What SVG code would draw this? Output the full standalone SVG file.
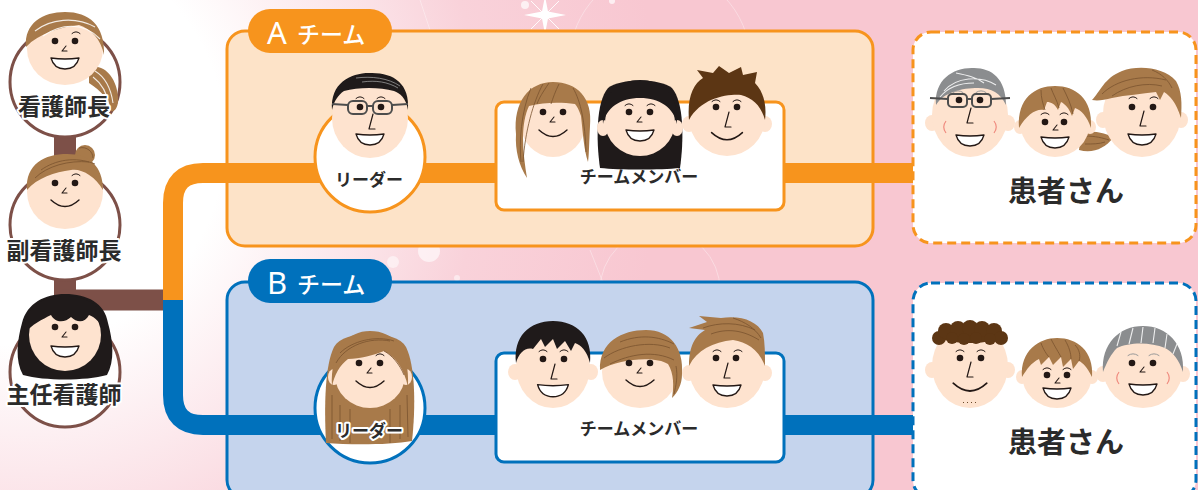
<svg xmlns="http://www.w3.org/2000/svg" width="1198" height="490" viewBox="0 0 1198 490">
<defs>
  <radialGradient id="bg" gradientUnits="userSpaceOnUse" cx="20" cy="140" r="640">
    <stop offset="0" stop-color="#ffffff"/>
    <stop offset="0.32" stop-color="#ffffff"/>
    <stop offset="0.72" stop-color="#f9d2da"/>
    <stop offset="1" stop-color="#f8c7d1"/>
  </radialGradient>
  <!-- shared facial features -->
  <path id="mo" d="M-14,-4 Q0,-2 14,-4 Q11,7 0,7 Q-11,7 -14,-4Z" fill="#ffffff" stroke="#231815" stroke-width="1.3" stroke-linejoin="round"/>
  <path id="sm" d="M-14,-4 Q0,9 14,-4" fill="none" stroke="#231815" stroke-width="1.4" stroke-linecap="round"/>
  <path id="nl" d="M2,-8 L-2,7 L4,7" fill="none" stroke="#231815" stroke-width="1.2" stroke-linecap="round" stroke-linejoin="round"/>
  <path id="ns" d="M2,-3 L-2,2 L3,2" fill="none" stroke="#231815" stroke-width="1.1" stroke-linecap="round" stroke-linejoin="round"/>
  <path id="br" d="M-4,1.5 Q0,-2 4,1.5" fill="none" stroke="#231815" stroke-width="1" stroke-linecap="round"/>
  <path id="brg" d="M-5,1.5 Q0,-2 5,1.5" fill="none" stroke="#9a9a9a" stroke-width="1" stroke-linecap="round"/>
  <circle id="ey" r="3.3" fill="#231815"/>
  <path id="ck" d="M-24,6 C-27,10 -27,14 -24,18 M24,6 C27,10 27,14 24,18" fill="none" stroke="#f08a7e" stroke-width="1.2"/>
</defs>
<style>
  .sk { fill: #fee3cf; }
  .hb { fill: #a87a4a; }
  .hd { fill: #5c3614; }
  .hk { fill: #1f1a1a; }
  .hg { fill: #8b8d8f; }
  .hl { fill: none; stroke: #7a532e; stroke-width: 0.8; }
  .hw { fill: none; stroke: #ffffff; stroke-width: 1.1; opacity: 0.85; }
  .gl { fill: none; stroke: #4d4d4d; stroke-width: 2; }
  .boss { fill: #ffffff; stroke: #7d5048; stroke-width: 3; }
  .lbl { font-family: 'Noto Sans CJK JP', 'Noto Sans', sans-serif; font-weight: 700; fill: #2b2b2b; text-anchor: middle; }
  .halo { stroke: #ffffff; stroke-width: 4; stroke-linejoin: round; paint-order: stroke; }
  .tab { font-family: 'Noto Sans', 'Noto Sans CJK JP', sans-serif; fill: #ffffff; }
  .tabj { font-family: 'Noto Sans CJK JP', sans-serif; font-weight: 500; fill: #ffffff; }
</style>

<!-- backdrop -->
<rect x="0" y="0" width="1198" height="490" fill="url(#bg)"/>
<g fill="#ffffff">
  <path d="M545,-4 L548,11.5 L566,15 L548,18.5 L545,34 L542,18.5 L524,15 L542,11.5Z"/>
  <path d="M531,1 L559,29 M559,1 L531,29" stroke="#ffffff" stroke-width="0.9"/>
  <circle cx="525" cy="5" r="4" opacity="0.7"/>
  <circle cx="612" cy="1" r="3" opacity="0.7"/>
  <circle cx="429" cy="251" r="11" opacity="0.6"/>
  <circle cx="393" cy="262" r="6" opacity="0.5"/>
  <circle cx="457" cy="278" r="3" opacity="0.5"/>
</g>
<g fill="none" stroke="#ffffff" stroke-width="0.8" opacity="0.45">
  <circle cx="660" cy="60" r="90"/>
  <circle cx="660" cy="290" r="60"/>
  <path d="M420,0 L440,60 M590,250 L610,300"/>
</g>

<!-- team panels -->
<g id="teamA">
  <rect x="227" y="31" width="646" height="215" rx="18" fill="#fde3c8" stroke="#f7941d" stroke-width="3"/>
  <rect x="248" y="9" width="144" height="44" rx="22" fill="#f7941d"/>
  <text class="tab" x="267" y="44" font-size="31">A</text>
  <text class="tabj" x="297" y="43" font-size="23">チーム</text>
</g>
<g id="teamB">
  <rect x="227" y="282" width="646" height="216" rx="18" fill="#c5d4ed" stroke="#0071bc" stroke-width="3"/>
  <rect x="248" y="259" width="144" height="44" rx="22" fill="#0071bc"/>
  <text class="tab" x="267" y="294" font-size="31">B</text>
  <text class="tabj" x="297" y="293" font-size="23">チーム</text>
</g>

<!-- connectors -->
<g id="connectors" fill="none">
  <path d="M65,130 L65,320" stroke="#7d5048" stroke-width="22"/>
  <path d="M62,300 L166,300" stroke="#7d5048" stroke-width="21"/>
  <path d="M173,300 L173,203 Q173,173 203,173 L916,173" stroke="#f7941d" stroke-width="20"/>
  <path d="M173,300 L173,395 Q173,425 203,425 L916,425" stroke="#0071bc" stroke-width="20"/>
</g>

<!-- head nurse -->
<g id="headNurse">
  <circle class="boss" cx="65" cy="82" r="55"/>
  <g transform="translate(65,49)">
    <path class="hb" d="M24,18 C40,14 52,30 53,48 C54,58 49,64 46,62 C44,50 36,42 24,34Z"/>
    <path class="hw" d="M30,22 C40,28 46,40 48,54 M28,28 C36,34 42,44 44,56" opacity="0.5"/>
    <ellipse class="sk" cx="0" cy="0" rx="38" ry="36"/>
    <path class="hb" d="M-39,-2 C-41,-26 -22,-37 0,-37 C24,-37 40,-24 39,6 C36,-10 26,-20 14,-24 C-4,-22 -26,-16 -39,-2Z"/>
    <path class="hw" d="M-30,-18 C-15,-30 10,-33 30,-22 M-22,-13 C-5,-25 18,-28 35,-10" opacity="0.5"/>
    <use href="#br" x="11" y="-17"/>
    <use href="#ey" x="-10" y="-8"/><use href="#ey" x="10" y="-8"/>
    <use href="#ns" x="-1" y="0"/>
    <use href="#mo" x="0" y="13"/>
  </g>
  <text class="lbl halo" x="64" y="115" font-size="23">看護師長</text>
</g>

<!-- deputy head nurse -->
<g id="deputyHeadNurse">
  <circle class="boss" cx="65" cy="225" r="55"/>
  <g transform="translate(65,192)">
    <circle class="hb" cx="20" cy="-37" r="10"/>
    <ellipse class="sk" cx="0" cy="0" rx="38" ry="37"/>
    <path class="hb" d="M-38,-2 C-40,-28 -20,-38 2,-38 C24,-38 38,-26 38,-2 C30,-16 16,-24 6,-22 C-10,-20 -28,-14 -38,-2Z"/>
    <path class="hl" d="M-30,-14 C-18,-26 4,-32 24,-30 M-24,-22 C-10,-32 10,-36 30,-28 M14,-44 C22,-46 28,-40 28,-34"/>
    <use href="#br" x="11" y="-18"/>
    <use href="#ey" x="-10" y="-9"/><use href="#ey" x="10" y="-9"/>
    <use href="#ns" x="-1" y="-1"/>
    <use href="#sm" x="0" y="12"/>
  </g>
  <text class="lbl halo" x="64" y="259" font-size="23">副看護師長</text>
</g>

<!-- chief nurse -->
<g id="chiefNurse">
  <circle class="boss" cx="65" cy="372" r="55"/>
  <g transform="translate(65,335)">
    <path class="hk" d="M-42,40 C-50,26 -48,6 -43,-12 C-38,-32 -20,-41 0,-41 C22,-41 40,-32 43,-12 C48,6 50,26 42,40 C20,46 -20,46 -42,40Z"/>
    <ellipse class="sk" cx="0" cy="0" rx="36" ry="36"/>
    <path class="hk" d="M-40,-2 C-42,-30 -20,-39 0,-39 C20,-39 42,-30 40,-2 C36,-12 30,-18 24,-20 C20,-12 12,-12 6,-18 C0,-12 -10,-12 -14,-20 C-22,-16 -34,-10 -40,-2Z"/>
    <use href="#ey" x="-10" y="-8"/><use href="#ey" x="10" y="-8"/>
    <use href="#ns" x="-1" y="0"/>
    <use href="#mo" x="0" y="15"/>
  </g>
  <text class="lbl halo" x="64" y="403" font-size="23">主任看護師</text>
</g>

<!-- team A leader -->
<g id="leaderA">
  <circle cx="370" cy="157" r="55" fill="#ffffff" stroke="#f7941d" stroke-width="3"/>
  <g transform="translate(370,118)">
    <ellipse class="sk" cx="0" cy="0" rx="38" ry="40"/>
    <path class="hk" d="M-38,-8 C-40,-36 -18,-46 2,-45 C24,-45 40,-34 38,-8 C36,-20 30,-25 24,-27 C10,-31 -12,-31 -26,-27 C-32,-23 -36,-17 -38,-8Z"/>
    <path d="M-14,-40 C2,-42 18,-40 30,-32 M-8,-36 C6,-38 18,-36 28,-30" fill="none" stroke="#8a8a8a" stroke-width="0.9"/>
    <use href="#br" x="-10" y="-21"/><use href="#br" x="11" y="-21"/>
    <g class="gl">
      <rect x="-22" y="-17" width="19" height="13" rx="5"/>
      <rect x="3" y="-17" width="19" height="13" rx="5"/>
      <path d="M-3,-12 L3,-12 M-22,-13 L-38,-14 M22,-13 L38,-14"/>
    </g>
    <use href="#ey" x="-10" y="-11"/><use href="#ey" x="11" y="-11"/>
    <use href="#nl" x="1" y="4"/>
    <use href="#mo" x="0" y="20"/>
  </g>
  <text class="lbl" x="369" y="186" font-size="17">リーダー</text>
</g>

<!-- team A members -->
<g id="membersA">
  <rect x="496" y="102" width="288" height="108" rx="8" fill="#ffffff" stroke="#f7941d" stroke-width="3"/>
  <g transform="translate(553,122)">
    <ellipse class="sk" cx="0" cy="2" rx="32" ry="33"/>
    <path class="hb" d="M-37,12 C-40,-20 -24,-40 0,-40 C24,-40 40,-24 37,4 C36,24 36,34 35,40 C31,28 30,12 28,-6 C26,-12 24,-16 22,-18 C8,-20 -8,-20 -24,-16 C-28,-8 -30,4 -30,16 C-30,30 -28,44 -26,56 C-34,44 -38,28 -37,12Z"/>
    <path class="hl" d="M-10,-38 C-20,-20 -28,10 -30,40 M6,-38 C2,-30 0,-24 -2,-18 M20,-34 C28,-20 32,0 33,30 M-22,-34 C-32,-10 -34,20 -32,40 M-4,-39 C-10,-30 -14,-24 -16,-18"/>
    <use href="#ey" x="-10" y="-10"/><use href="#ey" x="10" y="-10"/>
    <use href="#ns" x="-1" y="-2"/>
    <use href="#sm" x="0" y="12"/>
  </g>
  <g transform="translate(640,120)">
    <path class="hk" d="M-40,48 C-44,20 -44,-18 -32,-32 C-20,-42 20,-42 32,-32 C44,-18 44,20 40,48 C20,50 -20,50 -40,48Z"/>
    <ellipse class="sk" cx="-37" cy="8" rx="6" ry="8"/><ellipse class="sk" cx="37" cy="8" rx="6" ry="8"/>
    <ellipse class="sk" cx="0" cy="2" rx="35" ry="34"/>
    <path class="hk" d="M-37,4 C-39,-28 -20,-40 0,-40 C20,-40 39,-28 37,4 C34,-12 20,-22 0,-22 C-20,-22 -34,-12 -37,4Z"/>
    <use href="#br" x="-11" y="-16"/><use href="#br" x="11" y="-16"/>
    <use href="#ey" x="-11" y="-8"/><use href="#ey" x="10" y="-8"/>
    <use href="#ns" x="-1" y="0"/>
    <use href="#mo" x="0" y="14"/>
  </g>
  <g transform="translate(727,118)">
    <ellipse class="sk" cx="-38" cy="6" rx="7" ry="8"/><ellipse class="sk" cx="38" cy="6" rx="7" ry="8"/>
    <ellipse class="sk" cx="0" cy="0" rx="38" ry="38"/>
    <path class="hd" d="M-38,2 C-40,-20 -34,-34 -24,-40 L-30,-48 L-14,-45 L-8,-52 L2,-45 L14,-51 L16,-43 L30,-46 L28,-35 C36,-27 40,-14 38,2 C34,-12 26,-20 14,-23 C0,-24 -26,-20 -38,2Z"/>
    <use href="#br" x="-11" y="-18"/><use href="#br" x="10" y="-18"/>
    <use href="#ey" x="-11" y="-11"/><use href="#ey" x="10" y="-11"/>
    <use href="#nl" x="0" y="2"/>
    <use href="#sm" x="0" y="19" transform="translate(0,19) scale(1.1) translate(0,-19)"/>
  </g>
  <text class="lbl" x="639" y="183" font-size="17">チームメンバー</text>
</g>

<!-- team A patients -->
<g id="patientsA">
  <rect x="913" y="32" width="283" height="211" rx="18" fill="#ffffff" stroke="#f7941d" stroke-width="3" stroke-dasharray="9 5"/>
  <g transform="translate(970,115)">
    <ellipse class="sk" cx="-38" cy="8" rx="7" ry="8"/><ellipse class="sk" cx="38" cy="8" rx="7" ry="8"/>
    <ellipse class="sk" cx="0" cy="0" rx="38" ry="42"/>
    <path class="hg" d="M-34,-10 C-36,-36 -16,-48 4,-47 C22,-47 36,-36 36,-10 C30,-22 22,-27 8,-27 C-8,-27 -26,-23 -34,-10Z"/>
    <path class="hw" d="M-26,-24 C-14,-38 10,-40 26,-30 M-14,-42 C-4,-40 6,-38 14,-32 M-30,-18 C-22,-28 -10,-32 4,-32"/>
    <use href="#brg" x="-12" y="-24"/><use href="#brg" x="11" y="-24"/>
    <g class="gl">
      <rect x="-22" y="-21" width="19" height="13" rx="4"/>
      <rect x="2" y="-21" width="19" height="13" rx="4"/>
      <path d="M-3,-16 L2,-16 M-22,-16 L-40,-17 M21,-16 L40,-17"/>
    </g>
    <use href="#ey" x="-11" y="-15"/><use href="#ey" x="10" y="-15"/>
    <use href="#nl" x="-1" y="1"/>
    <use href="#ck"/>
    <use href="#mo" x="0" y="24"/>
  </g>
  <g transform="translate(1055,122)">
    <path class="hb" d="M26,10 C40,8 54,12 58,16 C50,26 38,32 24,28Z"/>
    <path class="hl" d="M30,14 C40,14 48,16 54,18 M30,22 C38,22 44,22 50,20"/>
    <ellipse class="sk" cx="-35" cy="5" rx="6" ry="7"/><ellipse class="sk" cx="35" cy="5" rx="6" ry="7"/>
    <ellipse class="sk" cx="0" cy="0" rx="35" ry="35"/>
    <path class="hb" d="M-36,6 C-38,-24 -20,-36 0,-36 C20,-36 38,-24 36,6 C32,-6 26,-12 20,-14 L17,-6 C14,-14 10,-18 6,-20 L3,-12 C0,-18 -4,-20 -8,-20 L-11,-12 C-18,-14 -28,-8 -36,6Z"/>
    <path class="hl" d="M-4,-34 C-2,-28 2,-22 4,-14 M8,-34 C12,-26 16,-18 18,-8 M-14,-32 C-14,-24 -12,-18 -10,-12"/>
    <use href="#br" x="-10" y="-9"/><use href="#br" x="9" y="-9"/>
    <use href="#ey" x="-10" y="0"/><use href="#ey" x="9" y="0"/>
    <use href="#ns" x="0" y="6"/>
    <use href="#mo" x="0" y="19"/>
  </g>
  <g transform="translate(1142,114)">
    <ellipse class="sk" cx="-39" cy="6" rx="7" ry="8"/><ellipse class="sk" cx="39" cy="6" rx="7" ry="8"/>
    <ellipse class="sk" cx="0" cy="0" rx="39" ry="43"/>
    <path class="hb" d="M-50,-14 C-42,-22 -38,-36 -20,-43 C-4,-49 22,-47 34,-33 C40,-23 40,-10 39,4 C34,-12 28,-18 22,-22 L18,-14 L14,-22 C0,-20 -16,-19 -30,-16 C-38,-14 -44,-13 -50,-14Z"/>
    <path class="hl" d="M-40,-20 C-26,-34 0,-40 24,-34 M-30,-18 C-16,-28 4,-32 20,-28 M10,-44 C20,-40 26,-34 30,-26"/>
    <use href="#br" x="-9" y="-17"/><use href="#br" x="12" y="-17"/>
    <use href="#ey" x="-10" y="-7"/><use href="#ey" x="11" y="-7"/>
    <use href="#nl" x="0" y="5"/>
    <use href="#mo" x="0" y="24"/>
  </g>
  <text class="lbl" x="1066" y="202" font-size="29" font-weight="400">患者さん</text>
</g>

<!-- team B leader -->
<g id="leaderB">
  <circle cx="370" cy="408" r="55" fill="#ffffff" stroke="#0071bc" stroke-width="3"/>
  <g transform="translate(370,375)">
    <path class="hb" d="M-44,68 C-46,30 -45,-10 -36,-28 C-26,-46 26,-46 36,-28 C45,-10 46,30 42,66 C20,70 -20,70 -44,68Z"/>
    <path class="hl" d="M-38,20 L-38,64 M-30,30 L-30,66 M30,30 L30,64 M37,20 L38,62 M-20,34 L-20,68 M20,34 L20,68"/>
    <ellipse class="sk" cx="-36" cy="2" rx="6" ry="8"/><ellipse class="sk" cx="36" cy="2" rx="6" ry="8"/>
    <ellipse class="sk" cx="0" cy="0" rx="35" ry="33"/>
    <path class="hb" d="M-38,12 C-40,-26 -22,-44 0,-44 C24,-44 40,-26 38,12 C34,-6 26,-18 14,-24 C4,-20 -10,-16 -22,-16 C-30,-10 -36,0 -38,12Z"/>
    <path class="hl" d="M-30,-22 C-18,-34 6,-40 24,-34 M-34,-12 C-24,-30 0,-38 20,-34 M14,-24 C22,-20 30,-10 34,0"/>
    <use href="#br" x="10" y="-21"/>
    <use href="#ey" x="-11" y="-12"/><use href="#ey" x="10" y="-12"/>
    <use href="#ns" x="-1" y="-4"/>
    <use href="#sm" x="0" y="10"/>
  </g>
  <text class="lbl halo" x="369" y="437" font-size="17">リーダー</text>
</g>

<!-- team B members -->
<g id="membersB">
  <rect x="496" y="353" width="288" height="109" rx="8" fill="#ffffff" stroke="#0071bc" stroke-width="3"/>
  <g transform="translate(553,367)">
    <ellipse class="sk" cx="-38" cy="5" rx="7" ry="8"/><ellipse class="sk" cx="38" cy="5" rx="7" ry="8"/>
    <ellipse class="sk" cx="0" cy="0" rx="37" ry="41"/>
    <path class="hk" d="M-37,-4 C-40,-30 -24,-46 0,-46 C24,-46 40,-30 37,-4 C34,-16 28,-22 22,-24 L18,-16 L12,-26 L4,-18 L0,-28 L-8,-20 L-12,-28 L-20,-18 C-28,-20 -34,-14 -37,-4Z"/>
    <use href="#br" x="-10" y="-17"/><use href="#br" x="11" y="-17"/>
    <use href="#ey" x="-10" y="-8"/><use href="#ey" x="11" y="-8"/>
    <use href="#nl" x="0" y="5"/>
    <use href="#mo" x="0" y="22" transform="translate(0,22) scale(1.1) translate(0,-22)"/>
  </g>
  <g transform="translate(640,372)">
    <ellipse class="sk" cx="0" cy="0" rx="38" ry="36"/>
    <path class="hb" d="M-40,-2 C-41,-30 -18,-42 6,-42 C30,-42 44,-24 42,2 C42,12 38,20 32,26 C34,14 34,2 28,-8 C16,-16 -20,-14 -40,-2Z"/>
    <path class="hl" d="M-36,-14 C-20,-26 10,-32 30,-24 M-30,-8 C-10,-18 14,-22 34,-12 M-20,-30 C0,-38 18,-36 34,-28 M36,-6 C38,4 36,14 34,22"/>
    <use href="#ey" x="-11" y="-9"/><use href="#ey" x="10" y="-9"/>
    <use href="#ns" x="-1" y="-1"/>
    <use href="#sm" x="0" y="12"/>
  </g>
  <g transform="translate(727,368)">
    <ellipse class="sk" cx="-38" cy="5" rx="7" ry="8"/><ellipse class="sk" cx="38" cy="5" rx="7" ry="8"/>
    <ellipse class="sk" cx="0" cy="0" rx="38" ry="40"/>
    <path class="hb" d="M-38,-2 C-38,-22 -32,-32 -22,-38 L-38,-40 L-20,-46 L-28,-52 L-6,-50 C14,-53 30,-47 36,-35 C38,-25 38,-14 38,-2 C32,-18 20,-26 6,-28 C-14,-26 -30,-18 -38,-2Z"/>
    <path class="hl" d="M-24,-40 C-8,-46 12,-46 28,-38 M-16,-34 C0,-40 16,-38 32,-28 M6,-50 C18,-46 28,-40 34,-30"/>
    <use href="#br" x="-10" y="-18"/><use href="#br" x="11" y="-18"/>
    <use href="#ey" x="-11" y="-10"/><use href="#ey" x="9" y="-10"/>
    <use href="#nl" x="-1" y="3"/>
    <use href="#mo" x="0" y="21"/>
  </g>
  <text class="lbl" x="639" y="435" font-size="17">チームメンバー</text>
</g>

<!-- team B patients -->
<g id="patientsB">
  <rect x="913" y="283" width="283" height="215" rx="18" fill="#ffffff" stroke="#0071bc" stroke-width="3" stroke-dasharray="9 5"/>
  <g transform="translate(970,366)">
    <ellipse class="sk" cx="-38" cy="4" rx="7" ry="8"/><ellipse class="sk" cx="38" cy="4" rx="7" ry="8"/>
    <ellipse class="sk" cx="0" cy="0" rx="38" ry="42"/>
    <g class="hd">
      <ellipse cx="0" cy="-30" rx="30" ry="7"/>
      <circle cx="-31" cy="-28" r="7"/><circle cx="-24" cy="-35" r="8"/><circle cx="-12" cy="-37" r="8"/>
      <circle cx="0" cy="-38" r="8"/><circle cx="12" cy="-37" r="8"/><circle cx="24" cy="-35" r="8"/>
      <circle cx="31" cy="-28" r="7"/><circle cx="-18" cy="-28" r="6"/><circle cx="6" cy="-28" r="6"/><circle cx="20" cy="-27" r="6"/>
      <circle cx="-6" cy="-27" r="6"/>
    </g>
    <use href="#br" x="-10" y="-16"/><use href="#br" x="11" y="-16"/>
    <use href="#ey" x="-10" y="-8"/><use href="#ey" x="11" y="-8"/>
    <use href="#nl" x="-1" y="4"/>
    <use href="#sm" x="0" y="22" transform="translate(0,22) scale(1.2) translate(0,-22)"/>
    <path d="M-7,36 L-6,37 M-3,36 L-2,37 M1,36 L2,37 M5,36 L6,37" stroke="#6a4a2a" stroke-width="1"/>
  </g>
  <g transform="translate(1057,375)">
    <ellipse class="sk" cx="-35" cy="2" rx="6" ry="7"/><ellipse class="sk" cx="35" cy="2" rx="6" ry="7"/>
    <ellipse class="sk" cx="0" cy="0" rx="35" ry="33"/>
    <path class="hb" d="M-35,2 C-37,-24 -18,-37 0,-37 C20,-37 37,-24 35,2 C30,-8 26,-12 22,-14 L16,-6 L14,-16 L6,-8 L4,-18 L-4,-10 L-8,-18 L-16,-10 L-18,-16 C-26,-12 -30,-6 -35,2Z"/>
    <path class="hl" d="M-6,-36 C-2,-28 2,-22 4,-18 M8,-35 C12,-28 14,-22 14,-16 M-16,-32 C-14,-26 -10,-20 -8,-18 M18,-30 C22,-26 24,-20 22,-14"/>
    <use href="#br" x="-10" y="-7"/><use href="#br" x="10" y="-7"/>
    <use href="#ey" x="-10" y="0"/><use href="#ey" x="10" y="0"/>
    <use href="#ns" x="0" y="6"/>
    <use href="#mo" x="0" y="17"/>
  </g>
  <g transform="translate(1143,368)">
    <ellipse class="sk" cx="-40" cy="6" rx="7" ry="8"/><ellipse class="sk" cx="40" cy="6" rx="7" ry="8"/>
    <ellipse class="sk" cx="0" cy="0" rx="40" ry="40"/>
    <path class="hg" d="M-40,4 C-42,-24 -24,-42 0,-42 C24,-42 42,-24 40,4 C36,-8 30,-16 22,-20 C8,-26 -14,-26 -26,-20 C-32,-14 -36,-6 -40,4Z"/>
    <path class="hw" d="M-26,-22 L-22,-36 M-14,-24 L-10,-40 M-2,-25 L0,-41 M10,-25 L12,-40 M22,-20 L24,-34 M30,-14 L34,-24"/>
    <use href="#brg" x="-10" y="-14"/><use href="#brg" x="11" y="-14"/>
    <use href="#ey" x="-11" y="-5"/><use href="#ey" x="10" y="-5"/>
    <use href="#ns" x="-1" y="2"/>
    <use href="#ck" y="-2"/>
    <use href="#mo" x="0" y="20"/>
  </g>
  <text class="lbl" x="1066" y="453" font-size="29" font-weight="400">患者さん</text>
</g>
</svg>
